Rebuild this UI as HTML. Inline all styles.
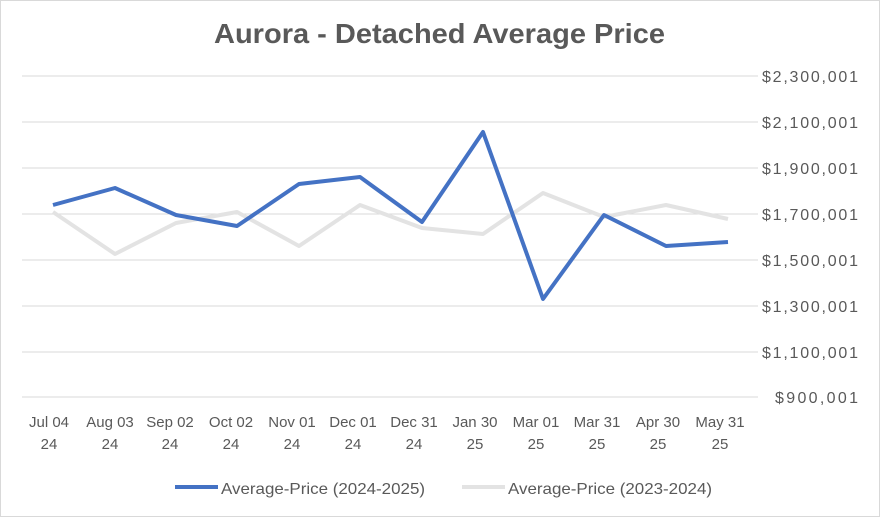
<!DOCTYPE html>
<html><head><meta charset="utf-8"><style>
body{margin:0;background:#fff;}
svg{display:block;font-family:"Liberation Sans",Arial,sans-serif;}
</style></head><body>
<svg width="880" height="517" viewBox="0 0 880 517">
<rect x="0.5" y="0.5" width="879" height="516" fill="#fff" stroke="#d9d9d9"/>
<text x="214" y="43" font-size="28" font-weight="bold" fill="#595959" textLength="451" lengthAdjust="spacingAndGlyphs">Aurora  - Detached Average Price</text>
<g stroke="#d9d9d9" stroke-width="1">
<line x1="22" x2="758" y1="76" y2="76"/><line x1="22" x2="758" y1="122" y2="122"/>
<line x1="22" x2="758" y1="168" y2="168"/><line x1="22" x2="758" y1="214" y2="214"/>
<line x1="22" x2="758" y1="260" y2="260"/><line x1="22" x2="758" y1="306" y2="306"/>
<line x1="22" x2="758" y1="352" y2="352"/><line x1="22" x2="758" y1="397" y2="397"/>
</g>
<g font-size="16" fill="#595959" lengthAdjust="spacingAndGlyphs">
<text x="762" y="82" textLength="96">$2,300,001</text><text x="762" y="128" textLength="96">$2,100,001</text>
<text x="762" y="174" textLength="96">$1,900,001</text><text x="762" y="220" textLength="96">$1,700,001</text>
<text x="762" y="266" textLength="96">$1,500,001</text><text x="762" y="312" textLength="96">$1,300,001</text>
<text x="762" y="358" textLength="96">$1,100,001</text><text x="775" y="403" textLength="83">$900,001</text>
</g>
<g font-size="15" fill="#595959" text-anchor="middle">
<text x="49" y="427">Jul 04</text><text x="49" y="449">24</text>
<text x="110" y="427">Aug 03</text><text x="110" y="449">24</text>
<text x="170" y="427">Sep 02</text><text x="170" y="449">24</text>
<text x="231" y="427">Oct 02</text><text x="231" y="449">24</text>
<text x="292" y="427">Nov 01</text><text x="292" y="449">24</text>
<text x="353" y="427">Dec 01</text><text x="353" y="449">24</text>
<text x="414" y="427">Dec 31</text><text x="414" y="449">24</text>
<text x="475" y="427">Jan 30</text><text x="475" y="449">25</text>
<text x="536" y="427">Mar 01</text><text x="536" y="449">25</text>
<text x="597" y="427">Mar 31</text><text x="597" y="449">25</text>
<text x="658" y="427">Apr 30</text><text x="658" y="449">25</text>
<text x="720" y="427">May 31</text><text x="720" y="449">25</text>
</g>
<polyline fill="none" stroke="#e3e3e3" stroke-width="4" stroke-linejoin="round" points="53,212 115,254 176,223 237,212 299,246 360,205 422,228 483,234 543,193 604,217 666,205 728,219"/>
<polyline fill="none" stroke="#4472c4" stroke-width="4" stroke-linejoin="round" points="53,205 115,188 176,215 237,226 299,184 360,177 422,222 483,132 543,299 604,215 666,246 728,242"/>
<line x1="175" x2="218" y1="487" y2="487" stroke="#4472c4" stroke-width="4"/>
<text x="221" y="494" font-size="16" fill="#595959" textLength="204" lengthAdjust="spacingAndGlyphs">Average-Price (2024-2025)</text>
<line x1="462" x2="505" y1="487" y2="487" stroke="#e3e3e3" stroke-width="4"/>
<text x="508" y="494" font-size="16" fill="#595959" textLength="204" lengthAdjust="spacingAndGlyphs">Average-Price (2023-2024)</text>
</svg>
</body></html>
